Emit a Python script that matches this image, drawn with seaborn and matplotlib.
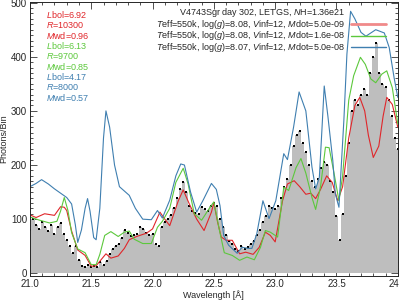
import numpy as np
import pandas as pd
import seaborn as sns
import matplotlib.pyplot as plt
from matplotlib.ticker import MultipleLocator

# observed spectrum (photons per bin)
wl_obs = np.round(np.arange(21.0, 24.0001, 0.025), 3)
counts = [80, 100, 90, 82, 95, 85, 78, 90, 72, 85, 92, 72, 62, 50, 38, 50, 25, 14, 12, 15,
          11, 13, 11, 20, 16, 22, 35, 45, 50, 55, 65, 80, 75, 68, 70, 72, 85, 82, 75, 70,
          72, 55, 50, 85, 95, 100, 108, 120, 140, 155, 168, 150, 125, 115, 112, 110, 122, 118, 115, 125,
          130, 125, 100, 85, 70, 60, 55, 45, 42, 50, 45, 48, 55, 60, 70, 80, 95, 105, 125, 120,
          118, 125, 140, 160, 175, 200, 235, 255, 263, 240, 225, 200, 170, 160, 175, 195, 205, 200, 170, 150,
          105, 62, 110, 180, 240, 300, 320, 310, 330, 340, 330, 370, 400, 425, 370, 350, 345, 320, 290, 250,
          230]

# model 1 (red)
wl_red = [21.00, 21.05, 21.12, 21.20, 21.25, 21.28, 21.30, 21.34, 21.39, 21.45, 21.50, 21.54, 21.58,
          21.62, 21.66, 21.72, 21.77, 21.81, 21.87, 21.95, 22.00, 22.06, 22.10, 22.14, 22.21, 22.25,
          22.30, 22.36, 22.42, 22.48, 22.50, 22.53, 22.56, 22.60, 22.65, 22.71, 22.76, 22.82, 22.87,
          22.92, 22.96, 23.00, 23.06, 23.10, 23.155, 23.20, 23.25, 23.29, 23.33, 23.37, 23.42, 23.465,
          23.51, 23.55, 23.60, 23.65, 23.69, 23.73, 23.76, 23.80, 23.845, 23.88, 23.91, 23.955, 24.00]
flux_red = [108, 103, 110, 107, 123, 122, 116, 78, 43, 33, 13, 14, 25,
            36, 28, 32, 46, 62, 68, 74, 82, 113, 100, 88, 134, 154,
            128, 100, 79, 113, 130, 95, 67, 61, 61, 36, 39, 35, 48,
            76, 70, 58, 134, 165, 171, 160, 146, 148, 138, 155, 180, 168,
            134, 160, 250, 310, 325, 300, 255, 214, 235, 290, 325, 312, 270]

# model 2 (green)
wl_green = [21.00, 21.08, 21.16, 21.22, 21.25, 21.28, 21.31, 21.34, 21.39, 21.45, 21.50, 21.54, 21.57,
            21.61, 21.66, 21.72, 21.77, 21.81, 21.85, 21.92, 21.99, 22.04, 22.08, 22.14, 22.19, 22.25,
            22.29, 22.34, 22.40, 22.46, 22.50, 22.545, 22.585, 22.65, 22.71, 22.77, 22.83, 22.88, 22.92,
            22.96, 23.02, 23.07, 23.11, 23.17, 23.21, 23.25, 23.30, 23.33, 23.37, 23.41, 23.44, 23.48,
            23.52, 23.55, 23.60, 23.64, 23.695, 23.735, 23.78, 23.82, 23.87, 23.91, 23.955, 24.00]
flux_green = [104, 98, 93, 96, 115, 140, 116, 75, 45, 38, 16, 16, 35,
              70, 77, 68, 76, 78, 63, 55, 55, 85, 96, 120, 168, 194,
              165, 110, 98, 119, 132, 80, 38, 33, 24, 30, 25, 48, 79,
              76, 67, 159, 153, 195, 212, 185, 140, 118, 160, 233, 232, 185,
              134, 180, 320, 365, 399, 386, 359, 352, 368, 374, 343, 276]

# model 3 (blue)
wl_blue = [21.00, 21.05, 21.095, 21.15, 21.20, 21.25, 21.30, 21.34, 21.37, 21.39, 21.42, 21.45, 21.47,
           21.49, 21.52, 21.54, 21.57, 21.60, 21.62, 21.65, 21.69, 21.73, 21.78, 21.81, 21.86, 21.92,
           21.99, 22.04, 22.08, 22.14, 22.19, 22.23, 22.26, 22.31, 22.36, 22.41, 22.48, 22.52, 22.55,
           22.58, 22.62, 22.69, 22.73, 22.78, 22.81, 22.85, 22.90, 22.95, 23.005, 23.07, 23.10, 23.15,
           23.195, 23.25, 23.30, 23.33, 23.36, 23.38, 23.40, 23.43, 23.47, 23.49, 23.52, 23.56, 23.585,
           23.615, 23.65, 23.70, 23.74, 23.82, 23.89, 23.93, 23.97, 24.00]
flux_blue = [160, 166, 173, 165, 156, 148, 140, 128, 90, 57, 80, 120, 138,
             115, 66, 62, 120, 250, 300, 270, 200, 160, 150, 144, 120, 100,
             99, 116, 102, 135, 180, 202, 200, 150, 113, 134, 166, 155, 125,
             70, 52, 37, 48, 46, 46, 73, 134, 101, 134, 221, 210, 270,
             335, 300, 196, 156, 177, 260, 346, 290, 208, 147, 122, 282, 405,
             484, 470, 445, 438, 450, 444, 417, 361, 325]

red, green, blue = '#e0262a', '#5cc83c', '#3f7fb0'

param_lines = [(r'$L$bol=6.92', red), (r'$R$=10300', red), (r'$M$wd=0.96', red),
               (r'$L$bol=6.13', green), (r'$R$=9700', green), (r'$M$wd=0.85', green),
               (r'$L$bol=4.17', blue), (r'$R$=8000', blue), (r'$M$wd=0.57', blue)]
title_line = r'V4743Sgr day 302, LETGS, $N$H=1.36e21'
model_lines = [r'$T$eff=550k, log($g$)=8.08, $V$inf=12, $M$dot=5.0e-09',
               r'$T$eff=550k, log($g$)=8.08, $V$inf=12, $M$dot=1.6e-08',
               r'$T$eff=550k, log($g$)=8.07, $V$inf=12, $M$dot=5.0e-08']

sns.set_style('ticks')
plt.rcParams['font.family'] = ['Liberation Sans', 'DejaVu Sans']
plt.rcParams['mathtext.fontset'] = 'custom'
plt.rcParams['mathtext.rm'] = 'Liberation Sans'
plt.rcParams['mathtext.it'] = 'Liberation Sans:italic'

fig = plt.figure(figsize=(3.99, 3.0), dpi=100)
ax = fig.add_axes([0.075, 0.08, 0.922, 0.913])

ax.fill_between(wl_obs, counts, step='mid', color='#bebebe', lw=0)
sns.scatterplot(x=wl_obs, y=counts, ax=ax, color='black', s=1.0, marker='s', linewidth=0)

sns.lineplot(x=wl_red, y=flux_red, ax=ax, color=red, lw=0.8, sort=False)
sns.lineplot(x=wl_green, y=flux_green, ax=ax, color=green, lw=0.8, sort=False)
sns.lineplot(x=wl_blue, y=flux_blue, ax=ax, color=blue, lw=0.8, sort=False)

ax.set_xlim(21.0, 24.0)
ax.set_ylim(-5, 501)
ax.xaxis.set_major_locator(MultipleLocator(0.5))
ax.xaxis.set_minor_locator(MultipleLocator(0.1))
ax.yaxis.set_major_locator(MultipleLocator(100))
ax.yaxis.set_minor_locator(MultipleLocator(10))
ax.xaxis.set_major_formatter(plt.FuncFormatter(lambda v, p: f'{v:.1f}'))
ax.tick_params(which='both', direction='in', top=True, right=True, labelsize=7, width=0.6, color='#333333')
ax.tick_params(which='major', length=5, pad=2)
ax.tick_params(which='minor', length=2.5)
for s in ax.spines.values():
    s.set_linewidth(0.7)
ax.set_xlabel('Wavelength [Å]', fontsize=6.5, labelpad=1)
ax.set_ylabel('Photons/Bin', fontsize=6.5, labelpad=2)

for i, (txt, c) in enumerate(param_lines):
    ax.text(0.045, 0.953 - i * 0.0376, txt, color=c, fontsize=6.5, transform=ax.transAxes, va='center')

ax.text(0.858, 0.963, title_line, fontsize=6.5, transform=ax.transAxes, ha='right', va='center')
for i, (txt, c) in enumerate(zip(model_lines, [red, green, blue])):
    yy = 0.92 - i * 0.042
    ax.text(0.858, yy, txt, fontsize=6.5, transform=ax.transAxes, ha='right', va='center')
    lw = 2.0 if i == 0 else 1.0
    lc = '#f08a8a' if i == 0 else c
    ax.plot([0.872, 0.967], [yy, yy], color=lc, lw=lw, transform=ax.transAxes)

fig.savefig('out.png', dpi=100)
